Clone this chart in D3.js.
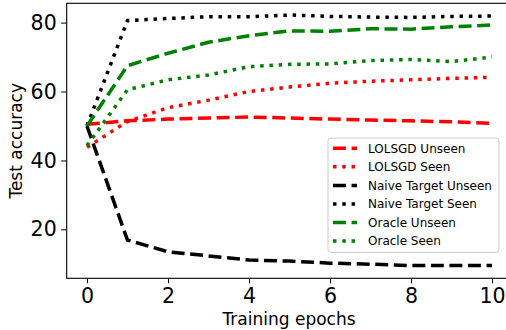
<!DOCTYPE html>
<html>
<head>
<meta charset="utf-8">
<script src="https://cdn.jsdelivr.net/npm/d3@7"></script>
<style>
  body { margin:0; background:#fff; }
  svg text { font-family:"DejaVu Sans", sans-serif; }
</style>
</head>
<body>
<div class="chart"></div>
<script>
var epochs = [0,1,2,3,4,5,6,7,8,9,10];
var lolsgdUnseen = [50.5,51.5,52.0,52.3,52.6,52.3,52.0,51.7,51.5,51.2,50.8];
var lolsgdSeen   = [43.8,51.3,55.3,57.5,60.0,61.3,62.4,63.0,63.4,63.8,64.1];
var naiveUnseen  = [50.0,16.9,13.5,12.3,11.1,10.8,10.2,9.9,9.5,9.5,9.5];
var naiveSeen    = [50.0,80.6,81.2,81.7,81.7,82.2,81.8,81.6,81.5,81.8,81.9];
var oracleUnseen = [50.0,67.5,71.1,74.3,76.2,77.6,77.5,78.2,78.1,78.8,79.3];
var oracleSeen   = [44.3,60.5,63.4,64.8,67.2,67.9,68.0,69.0,69.3,68.7,70.0];
var xTicks = [0,2,4,6,8,10];
var yTicks = [20,40,60,80];

var series = [
  {name:"LOLSGD Unseen", values:lolsgdUnseen, color:"#ff0000", style:"dashed"},
  {name:"LOLSGD Seen", values:lolsgdSeen, color:"#ff0000", style:"dotted"},
  {name:"Naive Target Unseen", values:naiveUnseen, color:"#000000", style:"dashed"},
  {name:"Naive Target Seen", values:naiveSeen, color:"#000000", style:"dotted"},
  {name:"Oracle Unseen", values:oracleUnseen, color:"#008000", style:"dashed"},
  {name:"Oracle Seen", values:oracleSeen, color:"#008000", style:"dotted"}
];

var width = 506, height = 330;
var lw = 3.5;
var dashes = {dashed:[3.7*lw,1.6*lw].join(","), dotted:[1*lw,1.65*lw].join(",")};

var x = d3.scaleLinear().domain([-0.5,10.5]).range([66.7,512.3]);
var y = d3.scaleLinear().domain([5.8,85.6]).range([278.3,3.3]);

var svg = d3.select(".chart").append("svg")
  .attr("width",width)
  .attr("height",height);

var line = d3.line()
  .x(function(d,i){ return x(epochs[i]); })
  .y(function(d){ return y(d); });

svg.selectAll(".series")
  .data(series)
  .enter().append("path")
    .attr("class","series")
    .attr("d",function(d){ return line(d.values); })
    .attr("fill","none")
    .attr("stroke",function(d){ return d.color; })
    .attr("stroke-width",lw)
    .attr("stroke-dasharray",function(d){ return dashes[d.style]; });

// axes
var xAxis = svg.append("g")
  .attr("transform","translate(0,"+y.range()[0]+")")
  .call(d3.axisBottom(x).tickValues(xTicks).tickSize(5).tickPadding(5).tickFormat(d3.format("d")));
var yAxis = svg.append("g")
  .attr("transform","translate("+x.range()[0]+",0)")
  .call(d3.axisLeft(y).tickValues(yTicks).tickSize(5.5).tickPadding(4.5).tickFormat(d3.format("d")));
[xAxis,yAxis].forEach(function(a){
  a.select(".domain").remove();
  a.selectAll("text").style("font-size","20.5px").attr("fill","#000");
  a.selectAll("line").attr("stroke","#000").attr("stroke-width",1);
});

// frame
svg.append("rect")
  .attr("x",x.range()[0]).attr("y",y.range()[1])
  .attr("width",x.range()[1]-x.range()[0])
  .attr("height",y.range()[0]-y.range()[1])
  .attr("fill","none").attr("stroke","#000").attr("stroke-width",1.1);

svg.append("text")
  .attr("x",289)
  .attr("y",324.5)
  .attr("text-anchor","middle")
  .style("font-size","17px")
  .text("Training epochs");
svg.append("text")
  .attr("transform","translate(22.3,"+((y.range()[0]+y.range()[1])/2)+") rotate(-90)")
  .attr("text-anchor","middle")
  .style("font-size","17px")
  .text("Test accuracy");

// legend
var legend = svg.append("g").attr("transform","translate(328,138)");
legend.append("rect")
  .attr("width",171).attr("height",114.5)
  .attr("rx",3)
  .attr("fill","#fff").attr("fill-opacity",0.8)
  .attr("stroke","#cccccc").attr("stroke-width",1);
var items = legend.selectAll(".item")
  .data(series)
  .enter().append("g")
    .attr("class","item")
    .attr("transform",function(d,i){ return "translate(5,"+(10.3+i*18.55)+")"; });
items.append("line")
  .attr("x1",0).attr("x2",24)
  .attr("stroke",function(d){ return d.color; })
  .attr("stroke-width",lw)
  .attr("stroke-dasharray",function(d){ return dashes[d.style]; });
items.append("text")
  .attr("x",35).attr("y",4.3)
  .style("font-size","12px")
  .text(function(d){ return d.name; });
</script>
</body>
</html>
